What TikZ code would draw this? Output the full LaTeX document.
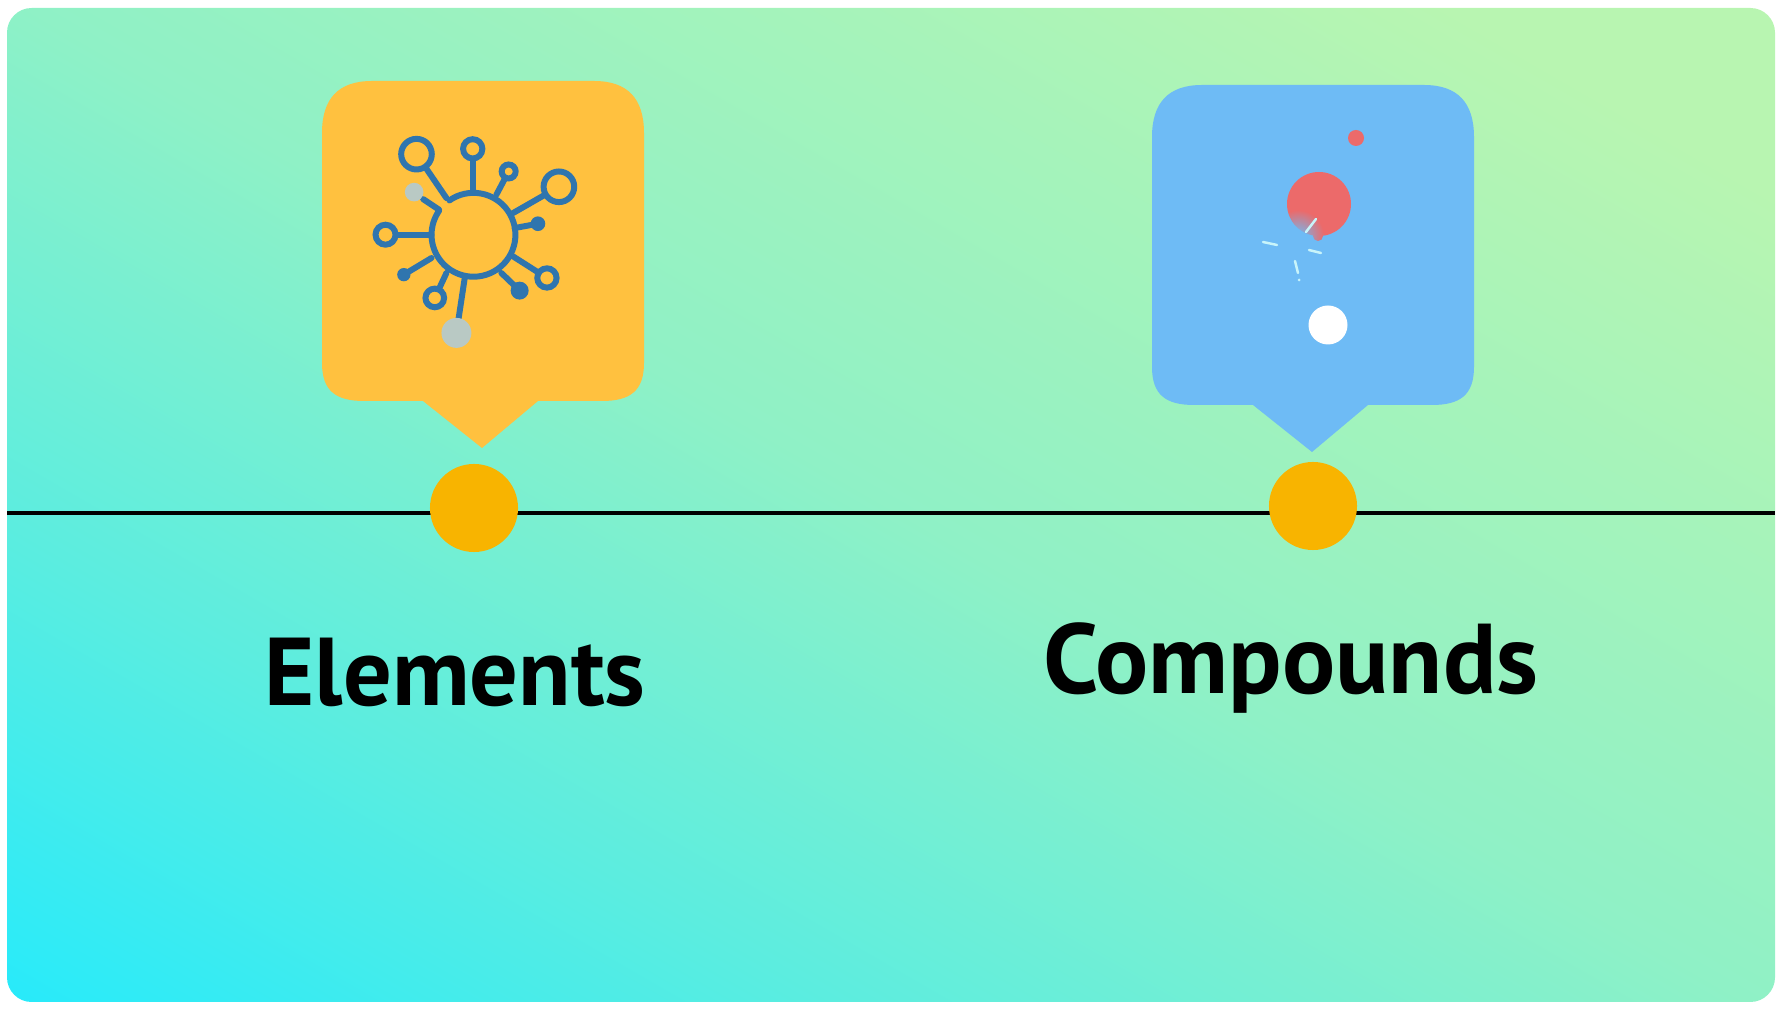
\documentclass[tikz,border=0pt]{standalone}
\usepackage{fontspec}
\setmainfont{PT Sans}
\usetikzlibrary{fadings}
\definecolor{washlo}{HTML}{22EAFD}
\definecolor{washlm}{HTML}{5CEDDF}
\definecolor{washmd}{HTML}{8FF1C6}
\definecolor{washhi}{HTML}{B8F5B1}
\definecolor{bubbleE}{HTML}{FFC13F}
\definecolor{bubbleC}{HTML}{6EBBF5}
\definecolor{marker}{HTML}{F8B400}
\definecolor{virus}{HTML}{2F75AE}
\definecolor{pale}{HTML}{B9C9C4}
\definecolor{atom}{HTML}{EC6A6A}
\definecolor{spark}{HTML}{C8F4FA}
\pgfdeclareverticalshading{cardwash}{100bp}{
  color(0bp)=(washlo); color(14bp)=(washlo); color(32bp)=(washlm);
  color(50bp)=(washmd); color(78bp)=(washhi); color(100bp)=(washhi)}
\tikzfading[name=fadeatom, inner color=transparent!0, outer color=transparent!100]
\tikzset{
  dotm/.style={circle, fill=marker, minimum size=0.88cm, inner sep=0pt},
  lbl/.style={font=\fontsize{27.4}{30}\selectfont\bfseries, text=black, anchor=base},
  arm/.style={draw=virus, line width=1.7pt, line cap=round},
  knob/.style={draw=virus, line width=1.7pt},
  sparkline/.style={draw=spark, line width=0.7pt, line cap=round},
  axisline/.style={draw=black, line width=1.4pt},
}
\begin{document}
\begin{tikzpicture}[x=0.01cm, y=-0.01cm]
  \useasboundingbox (0,0) rectangle (1784,1010);

  % --- background card ---
  \shade[shading=cardwash, shading angle=-30, rounded corners=7pt]
    (7,8) rectangle (1775,1002);

  % --- time line and its two markers ---
  \coordinate (lineL) at (7,513);
  \coordinate (lineR) at (1775,513);
  \draw[axisline] (lineL) -- (lineR);
  \node[dotm] (dotE) at (474,508) {};
  \node[dotm] (dotC) at (1313,506) {};

  % --- speech bubbles, same outline twice ---
  \foreach \bx/\by/\bcol in {322/81/bubbleE, 1152/85/bubbleC}{
    \fill[\bcol, shift={(\bx,\by)}]
      (50,0) -- (272,0)
      .. controls (306,0) and (322,18) .. (322,52)
      -- (322,282)
      .. controls (322,310) and (308,320) .. (280,320)
      -- (216,320) -- (160,367) -- (101,320) -- (42,320)
      .. controls (14,320) and (0,310) .. (0,282)
      -- (0,52)
      .. controls (0,18) and (16,0) .. (50,0) -- cycle;
  }

  % --- virus icon on the left bubble, numbers are 3x crop units ---
  \begin{scope}[shift={(300,60)}, x=0.00333cm, y=-0.00333cm]
    \draw[arm] (449,422) arc[start angle=-125, end angle=215, radius=126];
    % arms with an open ring at the end
    \foreach \xa/\ya/\xb/\yb/\r in {
      440/415/350/283/46, 519/395/519/267/29, 590/405/627/335/21,
      640/460/778/381/46, 640/590/742/655/29, 440/640/405/715/28,
      395/525/257/525/30}{
      \draw[arm] (\xa,\ya) -- (\xb,\yb);
      \fill[bubbleE] (\xb,\yb) circle (\r);
      \draw[knob] (\xb,\yb) circle (\r);
    }
    % arms with a filled end
    \foreach \xa/\ya/\xb/\yb/\r in {
      645/505/715/492/22, 605/640/660/693/27, 395/595/312/645/20}{
      \draw[arm] (\xa,\ya) -- (\xb,\yb);
      \fill[virus] (\xb,\yb) circle (\r);
    }
    % the two pale ends
    \draw[arm] (495,655) -- (470,820);
    \fill[pale] (470,820) circle (45);
    \draw[arm] (418,450) -- (370,418);
    \fill[pale] (343,397) circle (28);
  \end{scope}

  % --- atoms on the right bubble ---
  \fill[atom] (1356,138) circle (8);
  \fill[atom] (1319,204) circle (32);
  \fill[atom] (1318,236) circle (5);
  \fill[bubbleC, path fading=fadeatom] (1298,236) circle (26);
  \fill[white] (1328,325) circle (19.5);
  \draw[sparkline] (1306,232) -- (1316,219);
  \draw[sparkline] (1263,242) -- (1277,245);
  \draw[sparkline] (1309,250) -- (1321,253);
  \draw[sparkline] (1295,261) -- (1298,273);
  \fill[spark] (1299,280) circle (1.5);

  % --- labels ---
  \node[lbl] (lblE) at (455,706) {Elements};
  \node[lbl, font=\fontsize{28.2}{30}\selectfont\bfseries] (lblC) at (1291,694) {Compounds};
\end{tikzpicture}
\end{document}
